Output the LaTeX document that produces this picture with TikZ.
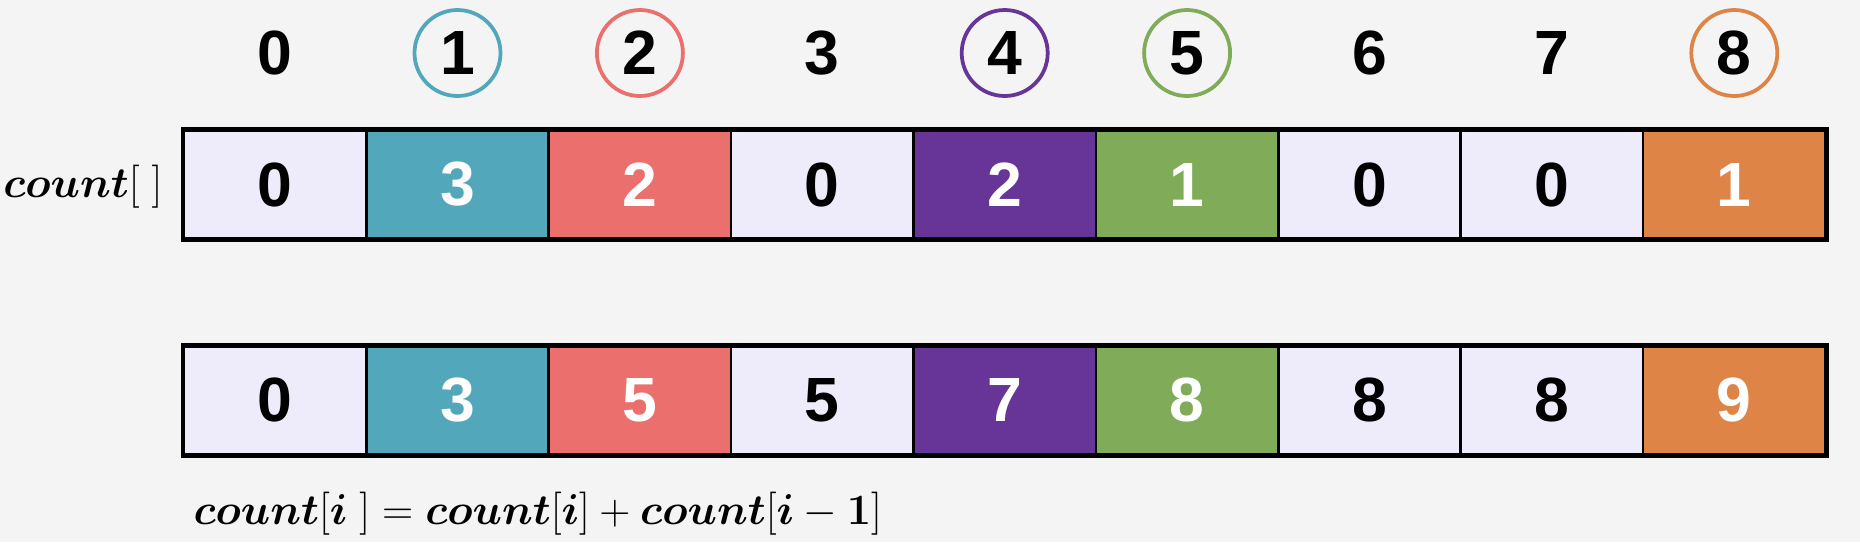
\documentclass[tikz,border=0pt]{standalone}
\usepackage{fontspec}
\setmainfont{Liberation Sans}
\usepackage{bm}
\definecolor{bg}{HTML}{F4F4F4}
\definecolor{cellbg}{HTML}{EEEBFB}
\definecolor{cteal}{HTML}{52A7BA}
\definecolor{cred}{HTML}{EB6F6C}
\definecolor{cpurple}{HTML}{673597}
\definecolor{cgreen}{HTML}{80AB58}
\definecolor{corange}{HTML}{DD8446}
\newcommand{\mylabeltext}{$\bm{count}[\;]$}
\newcommand{\myformulatext}{\thickmuskip=5mu\medmuskip=4mu$\bm{count}[\bm{i}\;]=\bm{count}[\bm{i}]+\bm{count}[\bm{i}-\bm{1}]$}
\begin{document}
\begin{tikzpicture}[x=0.4pt,y=-0.4pt,
  cell/.style={draw=black, line width=1pt, minimum width=72.96pt, minimum height=43.2pt, inner sep=0pt, font=\fontsize{25}{30}\selectfont\bfseries},
  idx/.style={inner sep=0pt, minimum size=34.4pt, font=\fontsize{25}{30}\selectfont\bfseries},
  ring/.style={idx, circle, draw=#1, line width=1.5pt},
  frame/.style={draw=black, line width=1.6pt},
  mathlbl/.style={inner sep=0pt, font=\fontsize{19}{22}\selectfont}]
\fill[bg] (0,0) rectangle (1860,542);
\useasboundingbox (0,0) rectangle (1860,542);
% top row
\foreach \i/\v/\f/\t in {0/0/cellbg/black,1/3/cteal/white,2/2/cred/white,3/0/cellbg/black,4/2/cpurple/white,5/1/cgreen/white,6/0/cellbg/black,7/0/cellbg/black,8/1/corange/white}
  \node[cell, fill=\f, text=\t] (a\i) at (275.1+182.4*\i,184.5) {\v};
\draw[frame] (a0.north west) rectangle (a8.south east);
% bottom row
\foreach \i/\v/\f/\t in {0/0/cellbg/black,1/3/cteal/white,2/5/cred/white,3/5/cellbg/black,4/7/cpurple/white,5/8/cgreen/white,6/8/cellbg/black,7/8/cellbg/black,8/9/corange/white}
  \node[cell, fill=\f, text=\t] (b\i) at (275.1+182.4*\i,400.3) {\v};
\draw[frame] (b0.north west) rectangle (b8.south east);
% indices
\foreach \i in {0,3,6,7}
  \node[idx] (n\i) at (275.1+182.4*\i,53) {\i};
\foreach \i/\cc in {1/cteal,2/cred,4/cpurple,5/cgreen,8/corange}
  \node[ring=\cc] (n\i) at (275.1+182.4*\i,53) {\i};
% labels
\node[mathlbl, anchor=east] (lbl) at (163,187) {\mylabeltext};
\node[mathlbl, anchor=west] (formula) at (193,514) {\myformulatext};
\end{tikzpicture}
\end{document}
